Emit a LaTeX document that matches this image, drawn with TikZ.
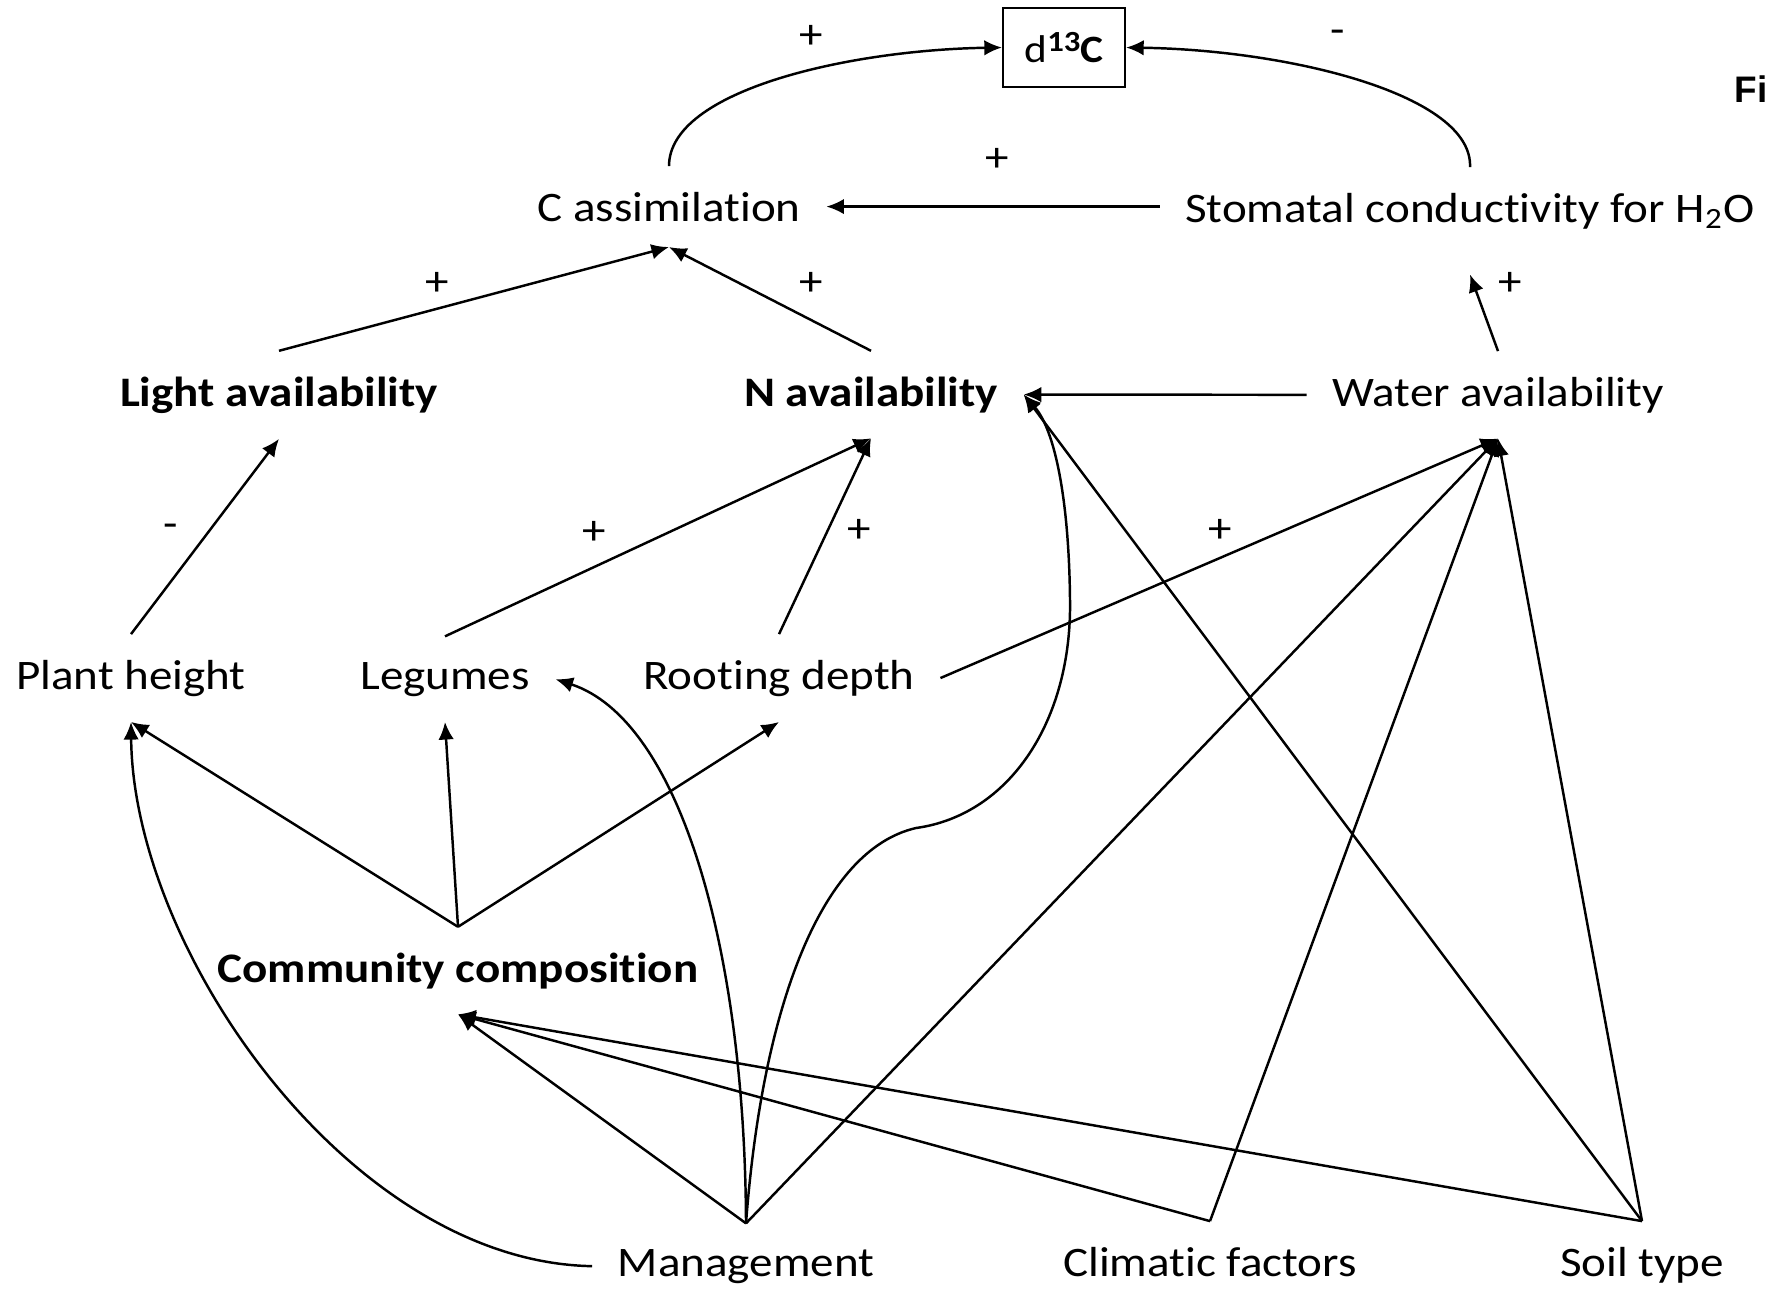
\documentclass[tikz,border=0pt]{standalone}
\usepackage{fontspec}
\setmainfont{Carlito}[FakeStretch=1.12]
\newfontfamily\figfont{Liberation Sans}
\newcommand{\nolig}{\kern0pt}
\usetikzlibrary{arrows.meta}

\begin{document}
\begin{tikzpicture}[x=0.01cm,y=-0.01cm,
  >={Latex[length=5pt,width=4.4pt]},
  every node/.style={font=\fontsize{11.95}{14}\selectfont},
  var/.style={anchor=base,inner sep=0.25cm},
  bold/.style={font=\fontsize{11.95}{14}\selectfont\bfseries},
  sign/.style={inner sep=0pt},
  link/.style={->,line width=0.7pt}]
\useasboundingbox (0,0) rectangle (1767,1290);

\node[draw,line width=0.6pt,minimum width=1.22cm,minimum height=0.79cm,inner sep=0pt,font=\fontsize{11}{13}\selectfont] (dC) at (1064,47.5) {d\raisebox{3.3pt}{\fontsize{8.3}{9}\selectfont\bfseries 13}\textbf{C}};
\node[anchor=base west,inner sep=0pt,font=\figfont\bfseries\fontsize{10.5}{12}\selectfont] (fig) at (1734,102) {Fi};

\node[var] (cass) at (669,221) {C assimilat\nolig ion};
\node[var] (stom) at (1470,222) {Stomatal conduct\nolig ivity for H\textsubscript{2}O};
\node[var,bold] (light) at (279,406) {Light availability};
\node[var,bold] (navail) at (871,406) {N availability};
\node[var] (water) at (1498,406) {Water availability};
\node[var] (height) at (131,689) {Plant height};
\node[var] (legumes) at (445,689) {Legumes};
\node[var] (rooting) at (779,689) {Root\nolig ing depth};
\node[var,bold] (comm) at (458,982) {Community composit\nolig ion};
\node[var] (mgmt) at (746,1276) {Management};
\node[var] (clim) at (1210,1276) {Climat\nolig ic factors};
\node[var] (soil) at (1642,1276) {Soil type};

\node[sign] (s1) at (811,37) {+};
\node[sign] (s2) at (1338,37) {-};
\node[sign] (s3) at (997,160) {+};
\node[sign] (s4) at (437,284) {+};
\node[sign] (s5) at (811,284) {+};
\node[sign] (s6) at (1510,284) {+};
\node[sign] (s7) at (171,531) {-};
\node[sign] (s8) at (594,533) {+};
\node[sign] (s9) at (859,531) {+};
\node[sign] (s10) at (1220,531) {+};

\draw[link] (cass.north) .. controls (669,90) and (850,50) .. (dC.west);
\draw[link] (stom.north) .. controls (1473,95) and (1290,50) .. (dC.east);
\draw[link] (stom.west |- cass.east) -- (cass.east);
\draw[link] (light.north) -- (cass.south);
\draw[link] (navail.north) -- (cass.south);
\draw[link] (water.north) -- ([yshift=-0.2cm]stom.south);
\draw[link] (water.west) -- (navail.east);
\draw[link] (height.north) -- (light.south);
\draw[link] (legumes.north) -- (navail.south);
\draw[link] (rooting.north) -- (navail.south);
\draw[link] (rooting.east) -- (water.south);
\draw[link] (comm.north) -- (height.south);
\draw[link] (comm.north) -- (legumes.south);
\draw[link] (comm.north) -- (rooting.south);

\draw[link] (mgmt.north) -- (comm.south);
\draw[link] (mgmt.north) -- (water.south);
\draw[link] (mgmt.north) .. controls (745,950) and (680,720) .. (legumes.east);
\draw[link] (mgmt.north) .. controls (762,1010) and (820,850) .. (916,828) .. controls (1010,815) and (1072,720) .. (1070,600) .. controls (1069,500) and (1055,430) .. (navail.east);
\draw[link] (mgmt.west) .. controls (350,1262) and (133,950) .. (height.south);
\draw[link] (clim.north) -- (comm.south);
\draw[link] (clim.north) -- (water.south);
\draw[link] (soil.north) -- (comm.south);
\draw[link] (soil.north) -- (water.south);
\draw[link] (soil.north) -- (navail.east);
\end{tikzpicture}
\end{document}
